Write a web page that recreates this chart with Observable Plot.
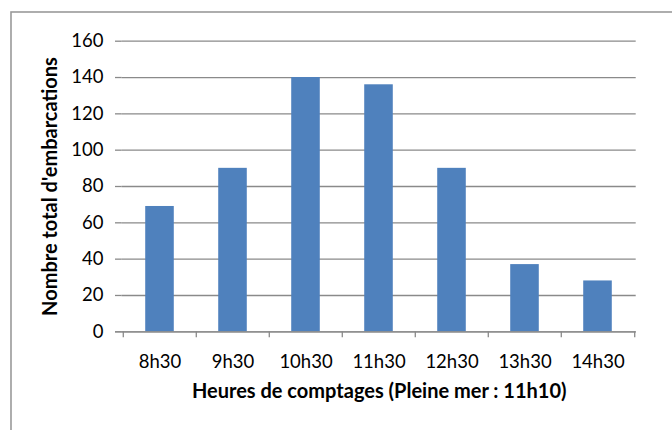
<!DOCTYPE html>
<html>
<head>
<meta charset="utf-8">
<script src="https://cdn.jsdelivr.net/npm/d3@7"></script>
<script src="https://cdn.jsdelivr.net/npm/@observablehq/plot@0.6"></script>
<style>
  html, body { margin: 0; padding: 0; background: #fff; }
  #chart svg { display: block; }
</style>
</head>
<body>
<div id="chart"></div>
<script>
// Data
const hours = ["8h30", "9h30", "10h30", "11h30", "12h30", "13h30", "14h30"];
const counts = [69, 90, 140, 136, 90, 37, 28];
const yTicks = [0, 20, 40, 60, 80, 100, 120, 140, 160];
const yTitle = "Nombre total d'embarcations";
const xTitle = "Heures de comptages (Pleine mer : 11h10)";

const data = hours.map((h, i) => ({hour: h, count: counts[i]}));

const W = 672, H = 430;
const mL = 121.7, mR = 36.3, mT = 40.7, mB = 98.7;
const bw = (W - mL - mR) / hours.length;
const inset = (bw - 29) / 2;
const gray = "#8a8a8a";
const font = "Lato, 'Open Sans', sans-serif";
const tickFs = 18.5;
const titleFs = 20;

const chart = Plot.plot({
  width: W,
  height: H,
  marginLeft: mL,
  marginRight: mR,
  marginTop: mT,
  marginBottom: mB,
  style: {fontFamily: font, fontSize: tickFs + "px", color: "#000", background: "#fff"},
  x: {type: "band", domain: hours, padding: 0, label: null},
  y: {domain: [0, 160], label: null},
  marks: [
    Plot.gridY(yTicks, {stroke: gray, strokeOpacity: 1, strokeWidth: 1.3}),
    Plot.barY(data, {x: "hour", y: "count", fill: "#4F81BD", insetLeft: inset, insetRight: inset}),
    Plot.axisY(yTicks, {tickSize: 6.7, tickPadding: 12, stroke: gray, strokeWidth: 1.3, fill: "#000", fontSize: tickFs, tickFormat: d => d}),
    Plot.ruleY([0], {stroke: gray, strokeWidth: 1.3, insetLeft: -6.7}),
    Plot.ruleX([0], {frameAnchor: "left", stroke: gray, strokeWidth: 1.3, y1: 0, y2: 160}),
    Plot.axisX(hours, {tickSize: 0, tickPadding: 22.6, fontSize: tickFs, fill: "#000"}),
    Plot.ruleX(hours, {x: d => d, dx: -bw / 2, y1: 0, y2: -3.3, stroke: gray, strokeWidth: 1.3}),
    Plot.ruleX([hours[hours.length - 1]], {x: d => d, dx: bw / 2, y1: 0, y2: -3.3, stroke: gray, strokeWidth: 1.3}),
    Plot.text([xTitle], {text: d => d, frameAnchor: "bottom", lineAnchor: "bottom", dy: 66.5, fontWeight: "bold", fontSize: titleFs, fill: "#000"}),
    Plot.text([yTitle], {text: d => d, frameAnchor: "left", textAnchor: "middle", lineAnchor: "bottom", rotate: -90, dx: -65.5, fontWeight: "bold", fontSize: titleFs, fill: "#000"})
  ]
});

d3.select(chart).insert("rect", ":first-child")
  .attr("x", 11).attr("y", 12).attr("width", 720).attr("height", 500)
  .attr("fill", "none").attr("stroke", "#9a9a9a").attr("stroke-width", 1.6);

document.getElementById("chart").appendChild(chart);
</script>
</body>
</html>
